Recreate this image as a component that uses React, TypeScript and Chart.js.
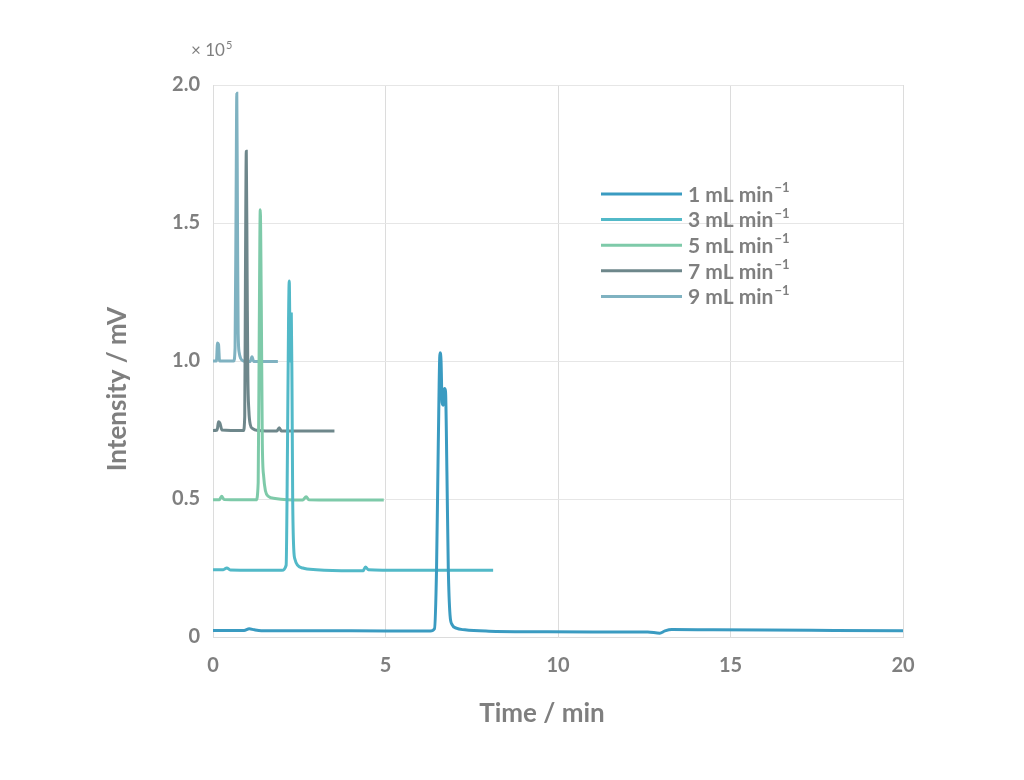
import React, { useEffect, useRef } from 'react';
import { Chart, registerables, ChartConfiguration, Plugin } from 'chart.js';

Chart.register(...registerables);

// retention data, intensity in units of 1e5 mV
const legendLabels = ['1 mL min', '3 mL min', '5 mL min', '7 mL min', '9 mL min'];
const colors = ['#3a9bc1', '#52b9c8', '#7ecaa9', '#6e878b', '#7fb2c1'];

const time1 = [0, 0.9, 1.05, 1.2, 1.4, 3, 5, 6.3, 6.42, 6.48, 6.53, 6.58, 6.61, 6.64, 6.67, 6.71, 6.74, 6.78, 6.82, 6.87, 6.93, 7.05, 7.3, 8, 9.5, 11, 12.6, 12.95, 13.1, 13.3, 14.5, 16, 18, 20];
const int1 = [0.024, 0.024, 0.03, 0.026, 0.023, 0.023, 0.022, 0.022, 0.03, 0.25, 0.7, 1.03, 1.0, 0.85, 0.84, 0.9, 0.89, 0.6, 0.25, 0.08, 0.045, 0.032, 0.026, 0.021, 0.019, 0.018, 0.018, 0.014, 0.022, 0.027, 0.026, 0.025, 0.024, 0.023];

const time3 = [0, 0.3, 0.4, 0.5, 1.2, 2.0, 2.12, 2.16, 2.19, 2.21, 2.23, 2.25, 2.27, 2.29, 2.31, 2.34, 2.38, 2.45, 2.6, 3, 4, 4.35, 4.42, 4.5, 5.5, 7, 8.12];
const int3 = [0.244, 0.244, 0.25, 0.243, 0.242, 0.242, 0.26, 0.7, 1.15, 1.29, 1.1, 1.0, 1.17, 0.9, 0.5, 0.32, 0.28, 0.26, 0.25, 0.244, 0.24, 0.24, 0.254, 0.244, 0.242, 0.242, 0.242];

const time5 = [0, 0.18, 0.25, 0.32, 0.8, 1.25, 1.31, 1.34, 1.37, 1.4, 1.43, 1.47, 1.52, 1.6, 1.8, 2.6, 2.7, 2.78, 3.5, 4.95];
const int5 = [0.497, 0.497, 0.51, 0.498, 0.497, 0.497, 0.56, 1.1, 1.548, 1.2, 0.7, 0.58, 0.53, 0.51, 0.502, 0.496, 0.508, 0.497, 0.496, 0.496];

const time7 = [0, 0.12, 0.16, 0.2, 0.26, 0.88, 0.92, 0.94, 0.965, 0.99, 1.01, 1.04, 1.08, 1.15, 1.3, 1.85, 1.92, 1.98, 2.5, 3.52];
const int7 = [0.748, 0.75, 0.78, 0.775, 0.75, 0.748, 0.8, 1.3, 1.76, 1.3, 0.95, 0.82, 0.77, 0.755, 0.748, 0.746, 0.758, 0.746, 0.746, 0.746];

const time9 = [0, 0.1, 0.13, 0.16, 0.19, 0.6, 0.64, 0.67, 0.69, 0.71, 0.73, 0.76, 0.8, 0.88, 1.08, 1.13, 1.18, 1.5, 1.88];
const int9 = [1.0, 1.0, 1.065, 1.06, 1.0, 1.0, 1.05, 1.6, 1.97, 1.5, 1.1, 1.03, 1.01, 1.0, 0.998, 1.015, 0.998, 0.998, 0.998];

const times = [time1, time3, time5, time7, time9];
const intensities = [int1, int3, int5, int7, int9];

const FONT = 'Lato, "DejaVu Sans", sans-serif';
const GREY = '#7f7f7f';

// draws the axis titles, the x10^5 marker and the in-plot legend
const overlayPlugin: Plugin<'line'> = {
  id: 'overlay',
  afterDraw(chart) {
    const { ctx, chartArea } = chart;
    ctx.save();
    ctx.fillStyle = GREY;
    ctx.textBaseline = 'middle';

    // axis titles (sit a little off-centre in the original)
    ctx.font = `bold 26px ${FONT}`;
    ctx.textAlign = 'center';
    ctx.fillText('Time / min', chartArea.left + 329, chartArea.bottom + 77);
    ctx.save();
    ctx.translate(chartArea.left - 95, chartArea.top + 304);
    ctx.rotate(-Math.PI / 2);
    ctx.fillText('Intensity / mV', 0, 0);
    ctx.restore();

    // exponent marker
    ctx.font = `17px ${FONT}`;
    ctx.textAlign = 'left';
    const mx = chartArea.left - 22;
    const my = chartArea.top - 34;
    ctx.fillText('× 10', mx, my);
    const w = ctx.measureText('× 10').width;
    ctx.font = `11px ${FONT}`;
    ctx.fillText('5', mx + w + 1, my - 6);

    // legend
    const lx = chartArea.left + 388;
    const ly = chartArea.top + 109;
    legendLabels.forEach((label, i) => {
      const y = ly + i * 25.6;
      ctx.strokeStyle = colors[i];
      ctx.lineWidth = 3;
      ctx.beginPath();
      ctx.moveTo(lx, y);
      ctx.lineTo(lx + 81, y);
      ctx.stroke();
      ctx.font = `bold 21px ${FONT}`;
      ctx.fillText(label, lx + 87, y + 1);
      const tw = ctx.measureText(label).width;
      ctx.font = `bold 13px ${FONT}`;
      ctx.fillText('−1', lx + 88 + tw, y - 6);
    });
    ctx.restore();
  },
};

const ChromatogramChart: React.FC = () => {
  const canvasRef = useRef<HTMLCanvasElement>(null);
  const chartRef = useRef<Chart | null>(null);

  useEffect(() => {
    if (chartRef.current) {
      chartRef.current.destroy();
    }
    const ctx = canvasRef.current!.getContext('2d');

    const datasets = times.map((t, i) => ({
      label: legendLabels[i],
      data: t.map((x, j) => ({ x, y: intensities[i][j] })),
      borderColor: colors[i],
      borderWidth: 3,
      pointRadius: 0,
      fill: false,
      cubicInterpolationMode: 'monotone' as const,
    }));

    const config: ChartConfiguration<'line'> = {
      type: 'line',
      data: { datasets },
      options: {
        responsive: false,
        animation: false,
        layout: { padding: { top: 85, right: 121, left: 0, bottom: 0 } },
        plugins: {
          legend: { display: false },
          tooltip: { enabled: false },
        },
        scales: {
          x: {
            type: 'linear',
            min: 0,
            max: 20,
            afterFit: (scale) => {
              scale.height = 143;
            },
            ticks: {
              stepSize: 5,
              padding: 17,
              color: GREY,
              font: { family: FONT, size: 20, weight: 'bold' },
            },
            grid: { color: '#dcdcdc', drawTicks: false },
            border: { color: '#dcdcdc' },
          },
          y: {
            type: 'linear',
            min: 0,
            max: 2,
            afterFit: (scale) => {
              scale.width = 213;
            },
            ticks: {
              stepSize: 0.5,
              padding: 13,
              color: GREY,
              font: { family: FONT, size: 20, weight: 'bold' },
              callback: (v) => (Number(v) === 0 ? '0' : Number(v).toFixed(1)),
            },
            grid: { color: '#e6e6e6', drawTicks: false },
            border: { color: '#dcdcdc' },
          },
        },
      },
      plugins: [overlayPlugin],
    };

    chartRef.current = new Chart(ctx!, config);

    return () => {
      chartRef.current?.destroy();
      chartRef.current = null;
    };
  }, []);

  return (
    <div style={{ position: 'fixed', left: 0, top: 0, width: 1024, height: 780, background: '#fff' }}>
      <canvas ref={canvasRef} width={1024} height={780} style={{ width: 1024, height: 780 }} />
    </div>
  );
};

export default function App() {
  return <ChromatogramChart />;
}
